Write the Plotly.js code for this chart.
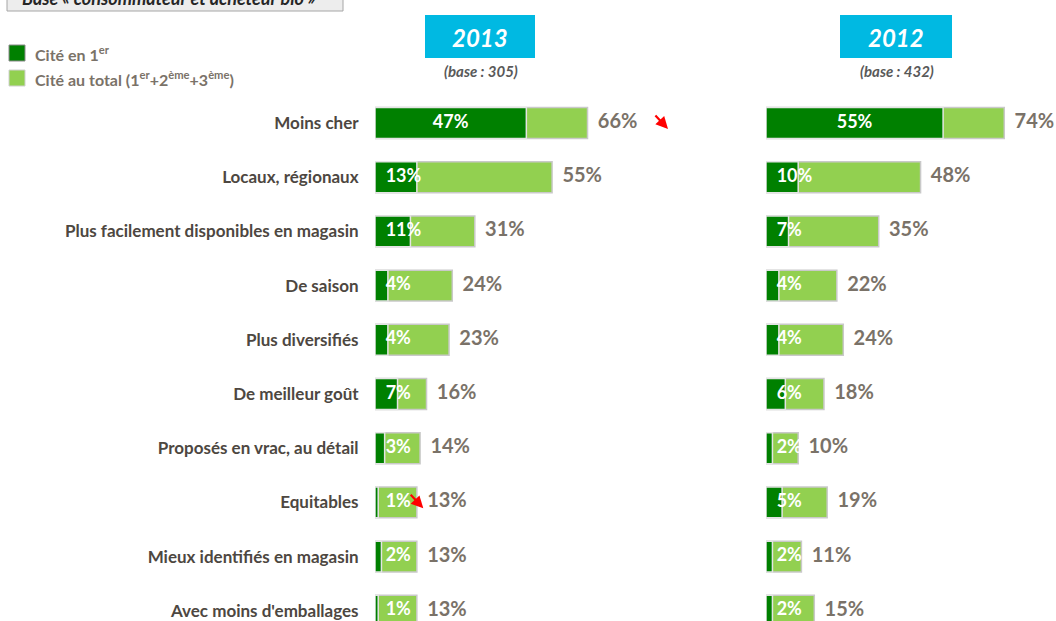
<!DOCTYPE html>
<html>
<head>
<meta charset="utf-8">
<script src="https://cdn.plot.ly/plotly-3.0.1.min.js"></script>
<style>
html,body{margin:0;padding:0;background:#fff;}
#chart{width:1056px;height:621px;}
</style>
</head>
<body>
<div id="chart"></div>
<script>
// ---- data ----
var categories = [
  "Moins cher",
  "Locaux, régionaux",
  "Plus facilement disponibles en magasin",
  "De saison",
  "Plus diversifiés",
  "De meilleur goût",
  "Proposés en vrac, au détail",
  "Equitables",
  "Mieux identifiés en magasin",
  "Avec moins d'emballages"
];
var first2013 = [47, 13, 11, 4, 4, 7, 3, 1, 2, 1];
var total2013 = [66, 55, 31, 24, 23, 16, 14, 13, 13, 13];
var first2012 = [55, 10, 7, 4, 4, 6, 2, 5, 2, 2];
var total2012 = [74, 48, 35, 22, 24, 18, 10, 19, 11, 15];
var decline2013 = [true, false, false, false, false, false, false, true, false, false];
var seriesNames = ["Cité en 1<sup>er</sup>", "Cité au total (1<sup>er</sup>+2<sup>ème</sup>+3<sup>ème</sup>)"];
var years = ["2013", "2012"];
var bases = ["(base : 305)", "(base : 432)"];
var baseTitle = "Base « consommateur et acheteur bio »";

// ---- style ----
var W = 1056, H = 621;
var FONT = "Lato, 'Open Sans', sans-serif";
var DARK = "#008000", LIGHT = "#92D050";
var GRAY = "#7a7268", LABEL = "#4d4741";
var pxPerPct = 3.22;
var leftStart = 375, leftEnd = 760, rightStart = 766;
var rowTop = 123, rowStep = 54.2;
var innerPad = 3.3;   // offset (in % units) of small inner labels from bar start
var labelGap = 3.2;   // offset (in % units) of total labels after bar end
var arrowGap = [25, 0, 0, 0, 0, 0, 0, 2.0, 0, 0]; // horizontal offset of arrow head after total

function pct(arr){ return arr.map(function(v){ return v + "%"; }); }
function innerX(arr){ return arr.map(function(v){ return v >= 20 ? v / 2 : innerPad; }); }
function innerPos(arr){ return arr.map(function(v){ return v >= 20 ? "middle center" : "middle right"; }); }
function outerX(arr){ return arr.map(function(v){ return v + labelGap; }); }

function panel(first, total, xa){
  return [
    {type:"bar", orientation:"h", x: total, y: categories, xaxis: xa, yaxis:"y",
     name: seriesNames[1], showlegend:false,
     marker:{color: LIGHT, line:{color:"#c9c9c9", width:1.5}}, width:0.57, hoverinfo:"skip"},
    {type:"bar", orientation:"h", x: first, y: categories, xaxis: xa, yaxis:"y",
     name: seriesNames[0], showlegend:false,
     marker:{color: DARK, line:{color:"#e4e4e4", width:1.5}}, width:0.57, hoverinfo:"skip"},
    {type:"scatter", mode:"text", x: innerX(first), y: categories, xaxis: xa, yaxis:"y",
     text: pct(first), textposition: innerPos(first), showlegend:false, cliponaxis:false,
     textfont:{family:FONT, size:18, color:"#ffffff", weight:700}, hoverinfo:"skip"},
    {type:"scatter", mode:"text", x: outerX(total), y: categories, xaxis: xa, yaxis:"y",
     text: pct(total), textposition:"middle right", showlegend:false, cliponaxis:false,
     textfont:{family:FONT, size:20, color:GRAY, weight:700}, hoverinfo:"skip"}
  ];
}

var data = panel(first2013, total2013, "x").concat(panel(first2012, total2012, "x2"));

// significance arrows
var annotations = [];
for (var i = 0; i < categories.length; i++) {
  if (decline2013[i]) {
    annotations.push({xref:"x", yref:"y", x: total2013[i] + arrowGap[i], y: i + 0.11, ax: -14, ay: -15,
      showarrow:true, arrowhead:2, arrowsize:1.1, arrowwidth:2.2, arrowcolor:"#ff0000", text:""});
  }
}
function py(p){ return 1 - p / H; }
function px(p){ return p / W; }

var shapes = [
  {type:"rect", xref:"paper", yref:"paper", x0:px(7), x1:px(343), y0:py(11), y1:py(-6),
   fillcolor:"#ededed", line:{color:"#a6a6a6", width:1}}
];
// legend (drawn manually)
var legendColors = [DARK, LIGHT];
var legendY = [53, 78];
for (var m = 0; m < 2; m++) {
  shapes.push({type:"rect", xref:"paper", yref:"paper", x0:px(9), x1:px(25),
    y0:py(legendY[m] + 8), y1:py(legendY[m] - 8), fillcolor:legendColors[m],
    line:{color: m === 0 ? "#8a8a8a" : "#d0d0d0", width:1}});
  annotations.push({xref:"paper", yref:"paper", x:px(33), y:py(legendY[m]), xanchor:"left", yanchor:"middle",
    showarrow:false, text:seriesNames[m], font:{family:FONT, size:16, color:GRAY, weight:700}});
}
// year boxes
var boxes = [[425, 535], [840, 952]];
for (var k = 0; k < 2; k++) {
  shapes.push({type:"rect", xref:"paper", yref:"paper", x0:px(boxes[k][0]), x1:px(boxes[k][1]),
    y0:py(58), y1:py(15), fillcolor:"#00b9e2", line:{width:0}});
  annotations.push({xref:"paper", yref:"paper", x:px((boxes[k][0]+boxes[k][1])/2), y:py(37),
    xanchor:"center", yanchor:"middle", showarrow:false, text:"<i>"+years[k]+"</i>",
    font:{family:FONT, size:24, color:"#ffffff", weight:700}});
  annotations.push({xref:"paper", yref:"paper", x:px((boxes[k][0]+boxes[k][1])/2 + 1), y:py(71),
    xanchor:"center", yanchor:"middle", showarrow:false, text:"<i>"+bases[k]+"</i>",
    font:{family:FONT, size:15, color:"#595959", weight:700}});
}
annotations.push({xref:"paper", yref:"paper", x:px(20), y:py(-2), xanchor:"left", yanchor:"middle",
  showarrow:false, text:"<i>"+baseTitle+"</i>", font:{family:FONT, size:18, color:"#262626", weight:700}});

var layout = {
  width: W, height: H,
  margin:{l:0, r:0, t:0, b:0, pad:0, autoexpand:false},
  paper_bgcolor:"#ffffff", plot_bgcolor:"#ffffff",
  barmode:"overlay",
  showlegend:false,
  xaxis:{domain:[px(leftStart), px(leftEnd)], range:[0, (leftEnd-leftStart)/pxPerPct],
    showgrid:false, zeroline:false, showticklabels:false, showline:false, ticks:"", fixedrange:true},
  xaxis2:{domain:[px(rightStart), 1], range:[0, (W-rightStart)/pxPerPct],
    showgrid:false, zeroline:false, showticklabels:false, showline:false, ticks:"", fixedrange:true},
  yaxis:{type:"category", range:[(H-rowTop)/rowStep, -rowTop/rowStep], showgrid:false, zeroline:false,
    showline:false, ticks:"outside", ticklen:12, tickcolor:"rgba(0,0,0,0)", automargin:false,
    tickfont:{family:FONT, size:17, color:LABEL, weight:700}, fixedrange:true},
  shapes: shapes,
  annotations: annotations,
  hovermode:false
};

Plotly.newPlot("chart", data, layout, {displayModeBar:false, staticPlot:true});
</script>
</body>
</html>
